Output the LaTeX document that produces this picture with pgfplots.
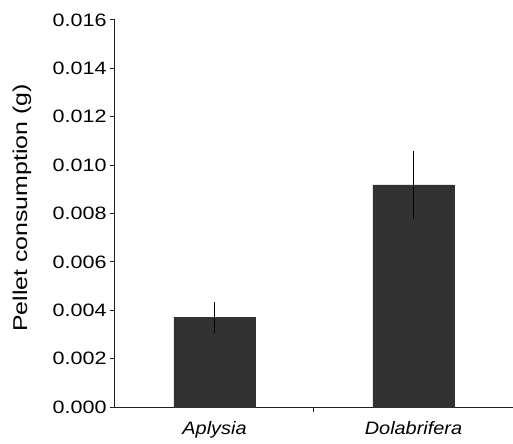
\documentclass[border=0pt]{standalone}
\usepackage{pgfplots}
\pgfplotsset{compat=1.18}
\usepackage{graphicx}
\usepackage{fontspec}
\setmainfont{Liberation Sans}

\definecolor{bargray}{RGB}{50,50,50}
\definecolor{axisgray}{RGB}{30,30,30}

\begin{document}
\begin{tikzpicture}
\useasboundingbox (-115bp,-37bp) rectangle (398bp,407bp);
\begin{axis}[
  at={(0,0)}, anchor=south west,
  scale only axis=true,
  width=398bp, height=387bp,
  axis lines*=left,
  axis line style={axisgray, line width=1bp},
  xmin=-0.5, xmax=1.5,
  ymin=0, ymax=0.016,
  ytick={0,0.002,...,0.016},
  scaled y ticks=false,
  /pgf/number format/assume math mode=true,
  yticklabel={\scalebox{1.2}[1]{\pgfmathprintnumber[fixed,fixed zerofill,precision=3]{\tick}}},
  yticklabel style={font=\fontsize{18}{20}\selectfont},
  ytick style={axisgray, line width=1bp},
  tick align=outside,
  major tick length=5bp,
  xtick={0.5},
  xticklabels={},
  xtick style={axisgray, line width=1bp},
  extra x ticks={0,1},
  extra x tick labels={\scalebox{1.11}[1]{\itshape Aplysia},\scalebox{1.11}[1]{\itshape Dolabrifera}},
  extra x tick style={major tick length=0pt,
    xticklabel style={font=\fontsize{18}{20}\selectfont, yshift=-11bp}},
  every axis y label/.style={at={(axis description cs:-0.2337,0.514)},rotate=90,anchor=center},
  ylabel={\fontsize{20}{24}\selectfont\scalebox{1.25}[1]{Pellet consumption (g)}},
  ybar,
  bar width=81bp,
  clip=false,
]
\addplot[fill=bargray, draw=bargray,
  error bars/.cd, y dir=both, y explicit,
  error mark=none,
  error bar style={black, line width=1.6bp}]
  coordinates {
  (0, 0.00372) +- (0, 0.00064)
  (1, 0.00918) +- (0, 0.00140)
};
\end{axis}
\end{tikzpicture}
\end{document}
